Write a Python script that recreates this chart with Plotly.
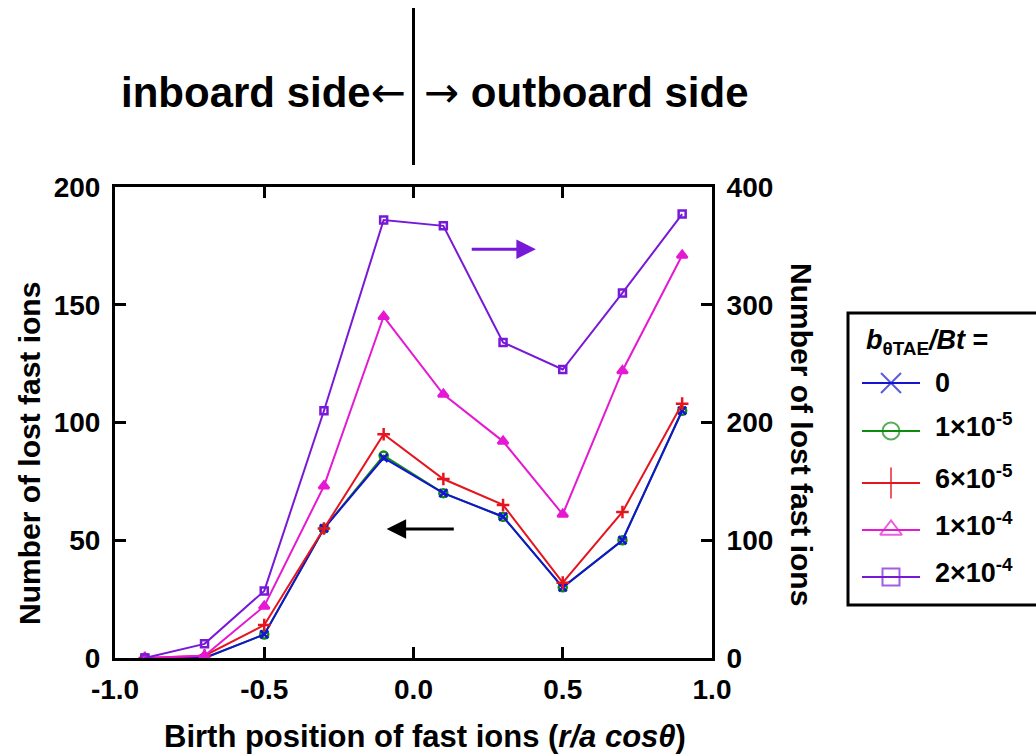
import plotly.graph_objects as go

# ---------------- data ----------------
birth_pos = [-0.9, -0.7, -0.5, -0.3, -0.1, 0.1, 0.3, 0.5, 0.7, 0.9]

lost_0 = [0, 0, 10, 55, 85, 70, 60, 30, 50, 105]
lost_1e5 = [0, 0, 10, 55, 86, 70, 60, 30, 50, 105]
lost_6e5 = [0, 1, 14, 55, 95, 76, 65, 32, 62, 108]
lost_1e4 = [0, 1, 22, 73, 145, 112, 92, 61, 122, 171]
lost_2e4_right = [0, 12, 57, 210, 372, 367, 268, 245, 310, 377]  # right axis

series_names = ["0", "1×10<sup>-5</sup>", "6×10<sup>-5</sup>",
                "1×10<sup>-4</sup>", "2×10<sup>-4</sup>"]
legend_title = "<i>b</i><sub>θTAE</sub><i>/Bt</i> ="
colors = ["#1414d2", "#0f8c0f", "#e6141e", "#e619d2", "#7819d7"]

x_tickvals = [-1.0, -0.5, 0.0, 0.5, 1.0]
x_ticktext = ["-1.0", "-0.5", "0.0", "0.5", "1.0"]
y_tickvals = [0, 50, 100, 150, 200]
y2_tickvals = [0, 100, 200, 300, 400]

FONT = "Liberation Sans, Arial, sans-serif"
ARROW_FONT = "DejaVu Sans"
W, H = 1036, 755

fig = go.Figure()

# ---------------- data traces ----------------
data_series = [
    (lost_1e5, 1, "circle-open", 8, "y"),
    (lost_0, 0, "x-thin-open", 8, "y"),
    (lost_6e5, 2, "cross-thin-open", 9, "y"),
    (lost_1e4, 3, "triangle-up", 9, "y"),
    (lost_2e4_right, 4, "square-open", 7, "y2"),
]
for vals, idx, sym, size, yax in data_series:
    fig.add_trace(go.Scatter(
        x=birth_pos, y=vals, xaxis="x", yaxis=yax, mode="lines+markers",
        line=dict(color=colors[idx], width=2),
        marker=dict(symbol=sym, size=size, color=colors[idx],
                    line=dict(color=colors[idx], width=2.5)),
        showlegend=False, hoverinfo="skip"))

# ---------------- hand-drawn legend (pixel space overlay) ----------------
leg_left, leg_top, leg_bottom = 848, 313, 605
leg_rows = [383, 431, 483, 530, 577]
leg_line_x = [862, 891, 920]
legend_syms = ["x-thin-open", "circle-open", "cross-thin-open",
               "triangle-up-open", "square-open"]
legend_sizes = [20, 17, 22, 19, 17]
for i, name in enumerate(series_names):
    ry = leg_rows[i]
    fig.add_trace(go.Scatter(
        x=leg_line_x, y=[ry, ry, ry], xaxis="x3", yaxis="y3",
        mode="lines+markers",
        line=dict(color=colors[i], width=2),
        marker=dict(symbol=legend_syms[i], size=[0, legend_sizes[i], 0],
                    color=colors[i], line=dict(color=colors[i], width=2)),
        showlegend=False, hoverinfo="skip"))
    fig.add_annotation(text=name, xref="x3", yref="y3", x=933, y=ry,
                       xanchor="left", yanchor="middle", showarrow=False,
                       yshift=(0 if i == 0 else 6),
                       font=dict(family=FONT, size=27, color="black",
                                 weight="bold"))
fig.add_annotation(text=legend_title, xref="x3", yref="y3", x=864, y=342,
                   xanchor="left", yanchor="middle", showarrow=False,
                   font=dict(family=FONT, size=27, color="black", weight="bold"))
fig.add_shape(type="rect", xref="x3", yref="y3", x0=leg_left, x1=W + 20,
              y0=leg_top, y1=leg_bottom, line=dict(color="black", width=3),
              fillcolor="rgba(0,0,0,0)", layer="below")

axis_common = dict(
    showline=True, linecolor="black", linewidth=3,
    ticks="inside", ticklen=11, tickwidth=3, tickcolor="black",
    showgrid=False, zeroline=False,
    tickfont=dict(family=FONT, size=28, color="black", weight="bold"),
)
hidden = dict(visible=False, showgrid=False, zeroline=False, fixedrange=True)

fig.update_layout(
    width=W, height=H,
    paper_bgcolor="white", plot_bgcolor="rgba(0,0,0,0)",
    margin=dict(l=0, r=0, t=0, b=0, autoexpand=False),
    font=dict(family=FONT, color="black"),
    showlegend=False,
    xaxis=dict(domain=[115 / W, 712 / W], anchor="y",
               range=[-1, 1], tickvals=x_tickvals, ticktext=x_ticktext,
               mirror="ticks", ticklabelstandoff=4, **axis_common),
    yaxis=dict(domain=[97 / H, 568 / H], anchor="x",
               range=[0, 200], tickvals=y_tickvals, mirror=True,
               ticklabelstandoff=6, **axis_common),
    yaxis2=dict(range=[0, 400], tickvals=y2_tickvals, overlaying="y",
                anchor="x", side="right", ticklabelstandoff=6, **axis_common),
    xaxis3=dict(domain=[0, 1], range=[0, W], anchor="y3", **hidden),
    yaxis3=dict(domain=[0, 1], range=[H, 0], anchor="x3", **hidden),
)

# ---------------- axis titles ----------------
title_font = dict(family=FONT, size=30, color="black", weight="bold")
fig.add_annotation(text="Birth position of fast ions (<i>r/a cosθ</i>)",
                   xref="x3", yref="y3", x=425, y=736,
                   xanchor="center", yanchor="middle", showarrow=False,
                   font=dict(family=FONT, size=31, color="black", weight="bold"))
fig.add_annotation(text="Number of lost fast ions", textangle=-90,
                   xref="x3", yref="y3", x=29, y=454,
                   xanchor="center", yanchor="middle", showarrow=False,
                   font=title_font)
fig.add_annotation(text="Number of lost fast ions", textangle=90,
                   xref="x3", yref="y3", x=802, y=434,
                   xanchor="center", yanchor="middle", showarrow=False,
                   font=title_font)

# ---------------- inboard / outboard header ----------------
fig.add_shape(type="line", xref="x", yref="y3", x0=0, x1=0,
              y0=8, y1=165, line=dict(color="black", width=3))
head_font = dict(family=FONT, size=42, color="black", weight="bold")
fig.add_annotation(
    text=f"inboard side<span style='font-family:{ARROW_FONT};font-weight:normal'>←</span>",
    xref="x", yref="y3", x=0, y=92, xanchor="right", yanchor="middle",
    xshift=-6, showarrow=False, font=head_font)
fig.add_annotation(
    text=f"<span style='font-family:{ARROW_FONT};font-weight:normal'>→</span> outboard side",
    xref="x", yref="y3", x=0, y=92, xanchor="left", yanchor="middle",
    xshift=8, showarrow=False, font=head_font)

# ---------------- axis-indicator arrows ----------------
fig.add_annotation(x=0.41, y=173.6, ax=0.19, ay=173.6, xref="x", yref="y",
                   axref="x", ayref="y", text="", showarrow=True,
                   arrowhead=2, arrowsize=1.3, arrowwidth=3,
                   arrowcolor=colors[4])
fig.add_annotation(x=-0.09, y=54.8, ax=0.14, ay=54.8, xref="x", yref="y",
                   axref="x", ayref="y", text="", showarrow=True,
                   arrowhead=2, arrowsize=1.3, arrowwidth=3,
                   arrowcolor="black")

fig.write_html("out.html")
